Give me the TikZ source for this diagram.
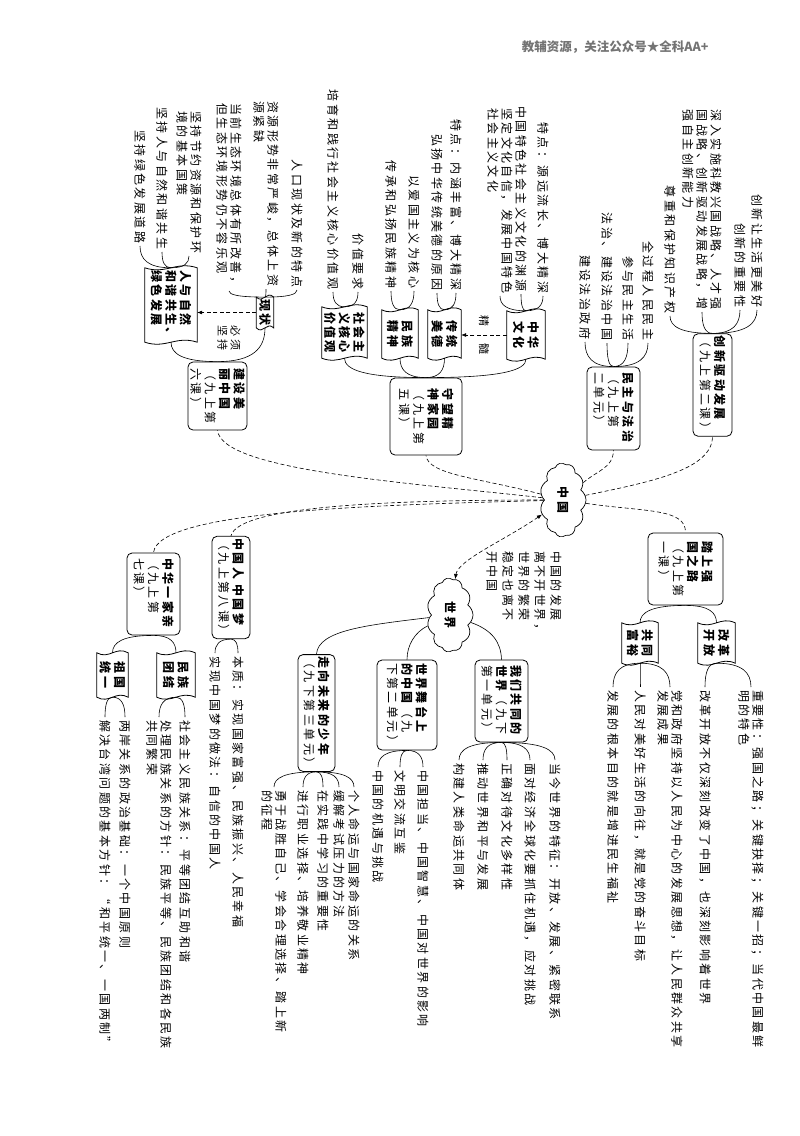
\documentclass[tikz,border=0pt]{standalone}
\usepackage{fontspec}
\setmainfont{Noto Sans CJK SC}[LetterSpace=20]
\newfontfamily\hdrfont{Noto Sans CJK SC}
\usetikzlibrary{shapes.symbols,calc,arrows.meta}
\newcommand\lfs{\fontsize{12}{14}\selectfont}
\newcommand\bxs{\fontsize{12}{14.5}\selectfont}
\tikzset{
 lf/.style={rotate=-90, font=\lfs, align=left, inner sep=0.5pt, outer sep=2.5pt},
 bx/.style={rotate=-90, draw, line width=0.8pt, rounded corners=5pt, font=\bxs, align=left, inner sep=2pt},
 tp/.style={rotate=-90, font=\bxs\bfseries, align=left, inner sep=2pt},
 cl/.style={rotate=-90, cloud, draw, line width=0.7pt, cloud puffs=11, cloud puff arc=110, cloud ignores aspect, minimum width=74pt, minimum height=46pt, font=\bxs\bfseries, inner sep=0pt},
 cn/.style={line width=0.6pt},
 dc/.style={line width=0.6pt, dash pattern=on 4pt off 2.5pt},
 bl/.style={line width=0.8pt},
 lb/.style={rotate=-90, font=\fontsize{11}{13}\selectfont, align=left, inner sep=0pt},
 tip/.style={-{Latex[length=5pt,width=4pt]}},
}
\newcommand\brc[2]{\draw[cn] let \p1=(#1), \p2=(#2) in (\p1) .. controls ({\x1+0.75*(\x2-\x1)},\y1) and (\x2,{\y2+0.6*(\y1-\y2)}) .. (\p2);}
\newcommand\wav[1]{\draw[bl] (#1.north west) -- (#1.north east)
  .. controls ($(#1.north east)!0.4!(#1.south east)+(0,-7)$) and ($(#1.north east)!0.6!(#1.south east)+(0,7)$) .. (#1.south east)
  -- (#1.south west)
  .. controls ($(#1.south west)!0.4!(#1.north west)+(0,7)$) and ($(#1.south west)!0.6!(#1.north west)+(0,-7)$) .. (#1.north west) -- cycle;}
\begin{document}
\begin{tikzpicture}[x=1pt,y=-1pt]
\useasboundingbox (0,0) rectangle (800,1136);
% header
\node[anchor=east, font=\hdrfont\bfseries\fontsize{12.5}{14}\selectfont, text=black!55] (hd) at (712,47) {教辅资源，关注公众号★全科AA+};

% clouds
\node[cl] (zg) at (563,500) {中国};
\node[cl] (sj) at (450,615) {世界};

% ---------- upper half ----------
\node[bx, minimum width=100pt, minimum height=39pt] (cx) at (712.5,385) {\textbf{创新驱动发展}\\（九上第二课）};
\node[bx, minimum width=83pt, minimum height=53pt] (mz) at (613.5,408.5) {\textbf{民主与法治}\\（九上第\\二单元）};
\node[bx, minimum width=77pt, minimum height=72pt] (sw) at (426,416.5) {\textbf{守望精}\\\textbf{神家园}\\（九上第\\五课）};
\node[bx, minimum width=68pt, minimum height=59pt] (jm) at (217.5,396) {\textbf{建设美}\\\textbf{丽中国}\\（九上第\\六课）};

\node[tp, minimum width=48pt, minimum height=38pt] (zw) at (526,335) {中华\\文化};
\node[tp, minimum width=48pt, minimum height=33pt] (ct) at (444.5,334) {传统\\美德};
\node[tp, minimum width=48pt, minimum height=36pt] (mj) at (400,334) {民族\\精神};
\node[tp, minimum width=51pt, minimum height=45pt] (hx) at (344.5,332.5) {社会主\\义核心\\价值观};
\node[tp, minimum width=29pt, minimum height=17pt] (xz) at (265,312.5) {现状};
\node[tp, minimum width=74pt, minimum height=52pt] (rz) at (171,305) {人与自然\\和谐共生、\\绿色发展};
\foreach \n in {zw,ct,mj,hx,xz,rz}{\wav{\n}}

\node[lf, anchor=east] (c1) at (757,310) {创新让生活更美好};
\node[lf, anchor=east] (c2) at (740,310) {创新的重要性};
\node[lf, anchor=east] (c3) at (702,312) {深入实施科教兴国战略、人才强\\国战略、创新驱动发展战略，增\\强自主创新能力};
\node[lf, anchor=east] (c4) at (670,316) {尊重和保护知识产权};

\node[lf, anchor=east] (m1) at (648,343) {全过程人民民主};
\node[lf, anchor=east] (m2) at (628,343) {参与民主生活};
\node[lf, anchor=east] (m3) at (607,343) {法治、建设法治中国};
\node[lf, anchor=east] (m4) at (585,342) {建设法治政府};

\node[lf, anchor=east] (z1) at (543,296) {特点：源远流长、博大精深};
\node[lf, anchor=east] (z2) at (521,294) {中国特色社会主义文化的渊源};
\node[lf, anchor=east] (z3) at (500,296) {坚定文化自信，发展中国特色\\社会主义文化};

\node[lf, anchor=east] (t1) at (456,293) {特点：内涵丰富、博大精深};
\node[lf, anchor=east] (t2) at (437,293) {弘扬中华传统美德的原因};
\node[lf, anchor=east] (n1) at (414,291) {以爱国主义为核心};
\node[lf, anchor=east] (n2) at (391,291) {传承和弘扬民族精神};
\node[lf, anchor=east] (h1) at (358,292) {价值要求};
\node[lf, anchor=east] (h2) at (333,292) {培育和践行社会主义核心价值观};

\node[lf, anchor=east] (x1) at (297,290) {人口现状及新的特点};
\node[lf, anchor=east] (x2) at (266,289) {资源形势非常严峻，总体上资\\源紧缺};
\node[lf, anchor=east] (x3) at (229,291) {当前生态环境总体有所改善，\\但生态环境形势仍不容乐观};
\node[lf, anchor=east] (r1) at (189,256) {坚持节约资源和保护环\\境的基本国策};
\node[lf, anchor=east] (r2) at (162,252) {坚持人与自然和谐共生};
\node[lf, anchor=east] (r3) at (140,246) {坚持绿色发展道路};

\foreach \l in {c1,c2,c3,c4}{\brc{cx.west}{\l.east}}
\foreach \l in {m1,m2,m3,m4}{\brc{mz.west}{\l.east}}
\foreach \l in {z1,z2,z3}{\brc{zw.west}{\l.east}}
\foreach \l in {t1,t2}{\brc{ct.west}{\l.east}}
\foreach \l in {n1,n2}{\brc{mj.west}{\l.east}}
\foreach \l in {h1,h2}{\brc{hx.west}{\l.east}}
\foreach \l in {zw,ct,mj,hx}{\brc{sw.west}{\l.east}}
\foreach \l in {x1,x2,x3}{\brc{xz.west}{\l.east}}
\foreach \l in {r1,r2,r3}{\brc{rz.west}{\l.east}}
\foreach \l in {xz,rz}{\brc{jm.west}{\l.east}}

\draw[dc, tip] (zw.south) -- (zw.south -| ct.north);
\node[lb] (jsl) at (484,335) {精\hspace{17pt}髓};
\draw[dc, tip] (xz.south) -- (xz.south -| rz.north);
\node[lb] (bxl) at (229,338) {必须\\坚持};

% ---------- lower half ----------
\node[bx, minimum width=72pt, minimum height=75pt] (tq) at (685.5,569) {\textbf{踏上强}\\\textbf{国之路}\\（九上第\\一课）};
\node[tp, minimum width=40pt, minimum height=37pt] (gg) at (716.5,643) {改革\\开放};
\node[tp, minimum width=40pt, minimum height=36pt] (gf) at (640,643) {共同\\富裕};
\foreach \n in {gg,gf}{\wav{\n}}
\node[lf, anchor=west] (g1) at (751,687) {重要性：强国之路；关键抉择；关键一招；当代中国最鲜\\明的特色};
\node[lf, anchor=west] (g2) at (705,687) {改革开放不仅深刻改变了中国，也深刻影响着世界};
\node[lf, anchor=west] (f1) at (670,687) {党和政府坚持以人民为中心的发展思想，让人民群众共享\\发展成果};
\node[lf, anchor=west] (f2) at (640,687) {人民对美好生活的向往，就是党的奋斗目标};
\node[lf, anchor=west] (f3) at (613,687) {发展的根本目的就是增进民生福祉};

\node[lf, anchor=west, font=\fontsize{12}{16}\selectfont] (fz) at (524,548) {中国的发展\\离不开世界，\\世界的繁荣\\稳定也离不\\开中国};

\node[bx, minimum width=82pt, minimum height=53pt] (gt) at (501.5,701) {\textbf{我们共同的}\\\textbf{世界}（九下\\第一单元）};
\node[bx, minimum width=90pt, minimum height=60pt] (wt) at (407,705) {\textbf{世界舞台上}\\\textbf{的中国}（九\\下第二单元）};
\node[bx, minimum width=110pt, minimum height=37pt] (zx) at (316.5,713) {\textbf{走向未来的少年}\\（九下第三单元）};
\node[bx, minimum width=101pt, minimum height=38pt] (rm) at (231,587.5) {\textbf{中国人\ 中国梦}\\（九上第八课）};
\node[bx, minimum width=82pt, minimum height=53pt] (zh) at (153.5,594) {\textbf{中华一家亲}\\（九上第\\七课）};
\node[tp, minimum width=44pt, minimum height=38pt] (mt) at (176,675) {民族\\团结};
\node[tp, minimum width=44pt, minimum height=31pt] (zt) at (112.5,675) {祖国\\统一};
\foreach \n in {mt,zt}{\wav{\n}}

\node[lf, anchor=west] (w1) at (555,760) {当今世界的特征：开放、发展、紧密联系};
\node[lf, anchor=west] (w2) at (530,760) {面对经济全球化要抓住机遇，应对挑战};
\node[lf, anchor=west] (w3) at (507,760) {正确对待文化多样性};
\node[lf, anchor=west] (w4) at (483,760) {推动世界和平与发展};
\node[lf, anchor=west] (w5) at (459,760) {构建人类命运共同体};
\node[lf, anchor=west] (s1) at (423,767) {中国担当、中国智慧、中国对世界的影响};
\node[lf, anchor=west] (s2) at (400,767) {文明交流互鉴};
\node[lf, anchor=west] (s3) at (378,767) {中国的机遇与挑战};
\node[lf, anchor=west] (y1) at (354,787) {个人命运与国家命运的关系};
\node[lf, anchor=west] (y2) at (339,787) {缓解考试压力的方法};
\node[lf, anchor=west] (y3) at (323,787) {在实践中学习的重要性};
\node[lf, anchor=west] (y4) at (303,787) {进行职业选择、培养敬业精神};
\node[lf, anchor=west] (y5) at (274,787) {勇于战胜自己、学会合理选择、踏上新\\的征程};
\node[lf, anchor=west] (q1) at (238,653) {本质：实现国家富强、民族振兴、人民幸福};
\node[lf, anchor=west] (q2) at (215,653) {实现中国梦的做法：自信的中国人};
\node[lf, anchor=west] (e1) at (185,717) {社会主义民族关系：平等团结互助和谐};
\node[lf, anchor=west] (e2) at (159,717) {处理民族关系的方针：民族平等、民族团结和各民族\\共同繁荣};
\node[lf, anchor=west] (u1) at (125,717) {两岸关系的政治基础：一个中国原则};
\node[lf, anchor=west] (u2) at (105,717) {解决台湾问题的基本方针：“和平统一、一国两制”};

\foreach \l in {gg,gf}{\brc{tq.east}{\l.west}}
\foreach \l in {g1,g2}{\brc{gg.east}{\l.west}}
\foreach \l in {f1,f2,f3}{\brc{gf.east}{\l.west}}
\foreach \l in {w1,w2,w3,w4,w5}{\brc{gt.east}{\l.west}}
\foreach \l in {s1,s2,s3}{\brc{wt.east}{\l.west}}
\foreach \l in {y1,y2,y3,y4,y5}{\brc{zx.east}{\l.west}}
\foreach \l in {q1,q2}{\brc{rm.east}{\l.west}}
\foreach \l in {mt,zt}{\brc{zh.east}{\l.west}}
\foreach \l in {e1,e2}{\brc{mt.east}{\l.west}}
\foreach \l in {u1,u2}{\brc{zt.east}{\l.west}}

% ---------- main connectors ----------
\draw[dc] (zg) .. controls (650,482) and (712,470) .. (cx.east);
\draw[dc] (zg) .. controls (598,470) and (613,468) .. (mz.east);
\draw[dc] (zg) .. controls (480,478) and (428,475) .. (sw.east);
\draw[dc] (zg) .. controls (400,482) and (222,470) .. (jm.east);
\draw[dc] (zg) .. controls (400,500) and (238,505) .. (rm.west);
\draw[dc] (zg) .. controls (380,505) and (158,510) .. (zh.west);
\draw[dc] (zg) .. controls (645,512) and (686,508) .. (tq.west);
\draw[dc, {Latex[length=5pt,width=4pt]}-{Latex[length=5pt,width=4pt]}] (zg) .. controls (505,540) and (458,560) .. (sj);
\draw[cn] (sj) .. controls (492,630) and (501,642) .. (gt.west);
\draw[cn] (sj) .. controls (415,632) and (407,645) .. (wt.west);
\draw[cn] (sj) .. controls (368,625) and (318,630) .. (zx.west);
\end{tikzpicture}
\end{document}
